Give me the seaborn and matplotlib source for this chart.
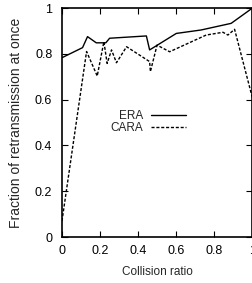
import numpy as np
import pandas as pd
import seaborn as sns
import matplotlib
matplotlib.use("Agg")
import matplotlib.pyplot as plt

era_x = [0.0, 0.108, 0.134, 0.18, 0.23, 0.25, 0.443, 0.46, 0.60, 0.73, 0.888, 1.0]
era_y = [0.783, 0.827, 0.875, 0.848, 0.848, 0.868, 0.878, 0.817, 0.889, 0.904, 0.933, 1.0]

cara_x = [0.0, 0.129, 0.185, 0.22, 0.237, 0.26, 0.286, 0.339, 0.46, 0.464, 0.499, 0.565,
          0.757, 0.845, 0.871, 0.906, 1.0]
cara_y = [0.07, 0.81, 0.703, 0.853, 0.758, 0.817, 0.761, 0.831, 0.766, 0.722, 0.838, 0.809,
          0.882, 0.894, 0.882, 0.907, 0.606]

df = pd.concat([
    pd.DataFrame({"x": era_x, "y": era_y, "scheme": "ERA"}),
    pd.DataFrame({"x": cara_x, "y": cara_y, "scheme": "CARA"}),
])

sns.set_style("ticks")
plt.rcParams["font.family"] = ["Liberation Sans", "DejaVu Sans"]

fig = plt.figure(figsize=(2.53, 2.83), dpi=100)
ax = fig.add_axes([0.245, 0.1625, 0.753, 0.8092])

sns.lineplot(data=df, x="x", y="y", hue="scheme", style="scheme",
             palette=["black", "black"], dashes=[(None, None), (2.2, 1.3)],
             linewidth=1.0, sort=False, estimator=None, ax=ax)

ticks = [0, 0.2, 0.4, 0.6, 0.8, 1]
tick_labels = ["0", "0.2", "0.4", "0.6", "0.8", "1"]
ax.set_xlim(0, 1)
ax.set_ylim(0, 1)
ax.set_xticks(ticks)
ax.set_xticklabels(tick_labels)
ax.set_yticks(ticks)
ax.set_yticklabels(tick_labels)
ax.tick_params(direction="in", length=4, width=0.8, top=True, right=True,
               labelsize=9, colors="black")
ax.tick_params(axis="x", pad=6)
ax.tick_params(axis="y", pad=7)
for s in ax.spines.values():
    s.set_linewidth(1.2)
    s.set_color("black")

ax.set_xlabel("Collision ratio", fontsize=8.5)
ax.set_ylabel("Fraction of retransmission at once", fontsize=10)
ax.xaxis.set_label_coords(0.5, -0.127)
ax.yaxis.set_label_coords(-0.205, 0.5)

leg = ax.legend(loc="upper left", bbox_to_anchor=(0.20, 0.60), frameon=False,
                markerfirst=False, handlelength=3.0, handletextpad=0.6,
                labelspacing=0.0, fontsize=8.5, title=None)

fig.savefig("out.png", dpi=100)
